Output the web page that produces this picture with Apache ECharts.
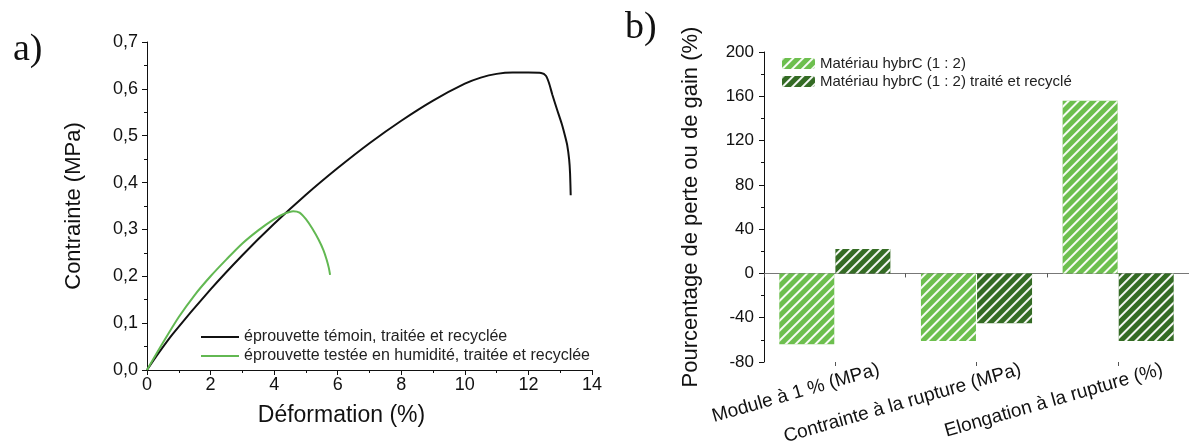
<!DOCTYPE html>
<html>
<head>
<meta charset="utf-8">
<script src="https://cdn.jsdelivr.net/npm/echarts@6/dist/echarts.min.js"></script>
<style>
html,body{margin:0;padding:0;background:#fff;}
#c{width:1189px;height:443px;}
</style>
</head>
<body>
<div id="c"></div>
<script>
// ---- Panel a) data: stress-strain curves ----
const temoinX = [0, 0.3, 0.8, 2, 3, 4, 5, 6, 7, 8, 9, 10, 10.5, 11, 11.5, 12, 12.4, 12.55, 12.65, 12.75, 12.9, 13.05, 13.15, 13.22, 13.28, 13.31, 13.33];
const temoinY = [0, 0.03, 0.076, 0.172, 0.245, 0.312, 0.374, 0.431, 0.484, 0.532, 0.575, 0.611, 0.624, 0.632, 0.635, 0.635, 0.634, 0.628, 0.612, 0.588, 0.556, 0.525, 0.5, 0.48, 0.45, 0.42, 0.373];
const humideX = [0, 0.5, 1, 1.5, 2, 2.5, 3, 3.5, 4, 4.3, 4.6, 4.8, 5.0, 5.2, 5.4, 5.55, 5.65, 5.72, 5.76];
const humideY = [0, 0.058, 0.113, 0.16, 0.2, 0.236, 0.27, 0.298, 0.322, 0.333, 0.339, 0.336, 0.322, 0.302, 0.278, 0.256, 0.236, 0.218, 0.203];
const xTicksA = [0, 14, 2];
const yTicksA = [0, 0.7, 0.1];

// ---- Panel b) data: percentage of loss or gain ----
const categoriesB = ['Module à 1 % (MPa)', 'Contrainte à la rupture (MPa)', 'Elongation à la rupture (%)'];
const hybrC = [-64, -61, 156];
const hybrCRecycle = [22, -45, -61];
const yTicksB = [-80, 200, 40];

const namesA = ['éprouvette témoin, traitée et recyclée', 'éprouvette testée en humidité, traitée et recyclée'];
const namesB = ['Matériau hybrC (1 : 2)', 'Matériau hybrC (1 : 2) traité et recyclé'];

const pairs = (xs, ys) => xs.map((x, i) => [x, ys[i]]);
const FONT = "'Liberation Sans', Arial, sans-serif";
const hatch = {
  symbol: 'rect', symbolSize: 1, symbolKeepAspect: false,
  color: 'rgba(255,255,255,0.95)',
  dashArrayX: [1, 0], dashArrayY: [1.6, 4.2], rotation: -Math.PI / 4
};

const chart = echarts.init(document.getElementById('c'), null, {renderer: 'canvas'});
chart.setOption({
  animation: false,
  backgroundColor: '#fff',
  textStyle: {fontFamily: FONT},
  title: [
    {text: 'a)', left: 8, top: 26, textStyle: {fontFamily: "'Liberation Serif', 'Times New Roman', serif", fontSize: 38, fontWeight: 'normal', color: '#111'}},
    {text: 'b)', left: 620, top: 4, textStyle: {fontFamily: "'Liberation Serif', 'Times New Roman', serif", fontSize: 38, fontWeight: 'normal', color: '#111'}}
  ],
  legend: [
    {
      data: namesA, orient: 'vertical', left: 196, top: 324, itemWidth: 38, itemHeight: 2, itemGap: 3,
      icon: 'rect',
      textStyle: {fontFamily: FONT, fontSize: 16, color: '#222'}
    },
    {
      data: namesB, orient: 'vertical', left: 777, top: 51, itemWidth: 33, itemHeight: 11, itemGap: 3,
      textStyle: {fontFamily: FONT, fontSize: 15, color: '#222'}
    }
  ],
  grid: [
    {left: 147, top: 42, width: 445, height: 328, outerBoundsMode: 'none', containLabel: false},
    {left: 764, top: 52, width: 425, height: 310, outerBoundsMode: 'none', containLabel: false}
  ],
  xAxis: [
    {
      gridIndex: 0, type: 'value', min: xTicksA[0], max: xTicksA[1], interval: xTicksA[2],
      name: 'Déformation (%)', nameLocation: 'middle', nameGap: 34,
      nameTextStyle: {fontFamily: FONT, fontSize: 23, color: '#111', padding: [0, 56, 0, 0]},
      axisLine: {show: true, onZero: false, lineStyle: {color: '#111', width: 1}},
      axisTick: {show: true, length: 5, lineStyle: {color: '#111'}},
      minorTick: {show: true, splitNumber: 2, length: 3, lineStyle: {color: '#111'}},
      splitLine: {show: false},
      axisLabel: {fontFamily: FONT, fontSize: 18, color: '#111', margin: 6}
    },
    {
      gridIndex: 1, type: 'category', data: categoriesB, position: 'bottom',
      axisLine: {show: true, onZero: true, lineStyle: {color: '#777', width: 1.2}},
      axisTick: {show: true, interval: 0, alignWithLabel: false, length: 4, inside: false, lineStyle: {color: '#555'}},
      axisLabel: {show: false},
      splitLine: {show: false}
    },
    {
      gridIndex: 1, type: 'category', data: categoriesB, position: 'bottom',
      axisLine: {show: false, onZero: true},
      axisTick: {show: true, interval: 0, alignWithLabel: true, length: 4, lineStyle: {color: '#555'}},
      axisLabel: {show: false},
      splitLine: {show: false}
    },
    {
      gridIndex: 1, type: 'category', data: categoriesB, position: 'bottom',
      axisLine: {show: false, onZero: false},
      axisTick: {show: false},
      splitLine: {show: false},
      axisLabel: {
        interval: 0, rotate: 16, fontFamily: FONT, fontSize: 19, color: '#111', margin: 20,
        padding: [0, -46, 0, 0]
      }
    }
  ],
  yAxis: [
    {
      gridIndex: 0, type: 'value', min: yTicksA[0], max: yTicksA[1], interval: yTicksA[2],
      name: 'Contrainte (MPa)', nameLocation: 'middle', nameGap: 62,
      nameTextStyle: {fontFamily: FONT, fontSize: 22, color: '#111'},
      axisLine: {show: true, lineStyle: {color: '#111', width: 1}},
      axisTick: {show: true, length: 5, lineStyle: {color: '#111'}},
      minorTick: {show: true, splitNumber: 2, length: 3, lineStyle: {color: '#111'}},
      splitLine: {show: false},
      axisLabel: {fontFamily: FONT, fontSize: 18, color: '#111', margin: 9,
        formatter: v => v.toFixed(1).replace('.', ',')}
    },
    {
      gridIndex: 1, type: 'value', min: yTicksB[0], max: yTicksB[1], interval: yTicksB[2],
      name: 'Pourcentage de perte ou de gain (%)', nameLocation: 'middle', nameGap: 62,
      nameTextStyle: {fontFamily: FONT, fontSize: 22, color: '#111'},
      axisLine: {show: true, lineStyle: {color: '#111', width: 1}},
      axisTick: {show: true, length: 5, lineStyle: {color: '#111'}},
      minorTick: {show: true, splitNumber: 2, length: 3, lineStyle: {color: '#111'}},
      splitLine: {show: false},
      axisLabel: {fontFamily: FONT, fontSize: 17, color: '#111', margin: 10}
    }
  ],
  series: [
    {
      name: namesA[0], type: 'line', xAxisIndex: 0, yAxisIndex: 0,
      data: pairs(temoinX, temoinY), symbol: 'none', smooth: 0.2,
      lineStyle: {color: '#111', width: 2}, itemStyle: {color: '#111'}
    },
    {
      name: namesA[1], type: 'line', xAxisIndex: 0, yAxisIndex: 0,
      data: pairs(humideX, humideY), symbol: 'none', smooth: 0.3,
      lineStyle: {color: '#62b852', width: 2}, itemStyle: {color: '#62b852'}
    },
    {
      name: namesB[0], type: 'bar', xAxisIndex: 1, yAxisIndex: 1,
      data: hybrC, barWidth: 55, barGap: '2%',
      itemStyle: {color: '#6dbf4e', decal: hatch}
    },
    {
      name: namesB[1], type: 'bar', xAxisIndex: 1, yAxisIndex: 1,
      data: hybrCRecycle, barWidth: 55, barGap: '2%',
      itemStyle: {color: '#346b24', decal: hatch}
    }
  ]
});
</script>
</body>
</html>
